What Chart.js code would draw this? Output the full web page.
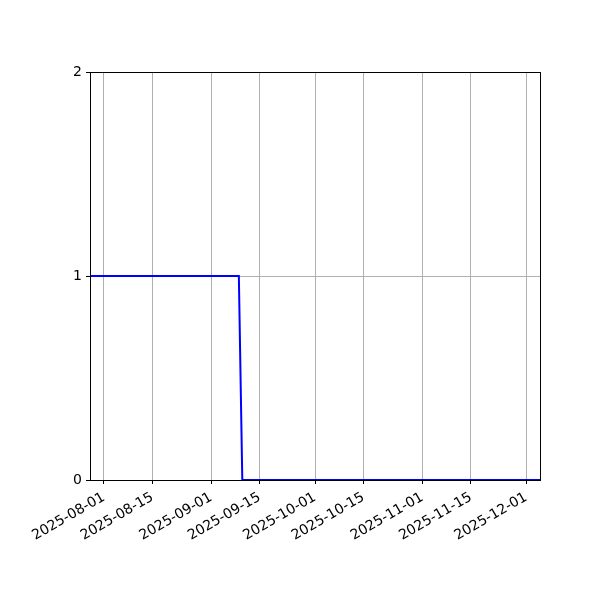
<!DOCTYPE html>
<html>
<head>
<meta charset="utf-8">
<script src="https://cdn.jsdelivr.net/npm/chart.js@4.4.0/dist/chart.umd.min.js"></script>
<style>html,body{margin:0;padding:0;background:#fff;}canvas{display:block;}</style>
</head>
<body>
<canvas id="c" width="600" height="600"></canvas>
<script>
// Data (dates where the series changes; straight segments between them)
const dates = ["2025-07-28", "2025-09-09", "2025-09-10", "2025-12-05"];
const values = [1, 1, 0, 0];
const xTickLabels = ["2025-08-01","2025-08-15","2025-09-01","2025-09-15","2025-10-01","2025-10-15","2025-11-01","2025-11-15","2025-12-01"];
const yTicks = [0, 1, 2];
const xMinDate = "2025-07-28";
const xMaxDate = "2025-12-05";

const toMs = s => Date.parse(s + "T00:00:00Z");
const fmt = ms => new Date(ms).toISOString().slice(0, 10);
const points = dates.map((d, i) => ({x: toMs(d), y: values[i]}));
const FONT = {family: "DejaVu Sans", size: 14};

const boxPlugin = {
  id: 'box',
  afterDatasetsDraw(chart) {
    const a = chart.chartArea, ctx = chart.ctx;
    ctx.save();
    ctx.strokeStyle = '#000';
    ctx.lineWidth = 1;
    ctx.strokeRect(Math.round(a.left) + 0.5, Math.round(a.top) + 0.5, Math.round(a.right - a.left), Math.round(a.bottom - a.top));
    ctx.restore();
  }
};

new Chart(document.getElementById('c'), {
  type: 'line',
  data: {datasets: [{data: points, borderColor: '#0000ff', borderWidth: 2, pointRadius: 0, tension: 0, fill: false}]},
  options: {
    responsive: false, devicePixelRatio: 1, animation: false,
    layout: {padding: {left: 0, right: 60, top: 72, bottom: 0}},
    plugins: {legend: {display: false}, tooltip: {enabled: false}},
    scales: {
      x: {
        type: 'linear', min: toMs(xMinDate), max: toMs(xMaxDate),
        afterBuildTicks(s) { s.ticks = xTickLabels.map(t => ({value: toMs(t)})); },
        afterFit(s) { s.height = 120; },
        ticks: {autoSkip: false, minRotation: 30, maxRotation: 30, color: '#000', font: FONT, padding: 5,
          callback: v => fmt(v)},
        grid: {color: '#b0b0b0', lineWidth: 1, tickColor: '#000', tickLength: 4, tickWidth: 1},
        border: {display: true, color: '#000', width: 1}
      },
      y: {
        min: 0, max: 2,
        afterBuildTicks(s) { s.ticks = yTicks.map(v => ({value: v})); },
        afterFit(s) { s.width = 90; },
        ticks: {color: '#000', font: FONT, padding: 4, callback: v => String(v)},
        grid: {color: '#b0b0b0', lineWidth: 1, tickColor: '#000', tickLength: 4, tickWidth: 1},
        border: {display: true, color: '#000', width: 1}
      }
    }
  },
  plugins: [boxPlugin]
});
</script>
</body>
</html>
